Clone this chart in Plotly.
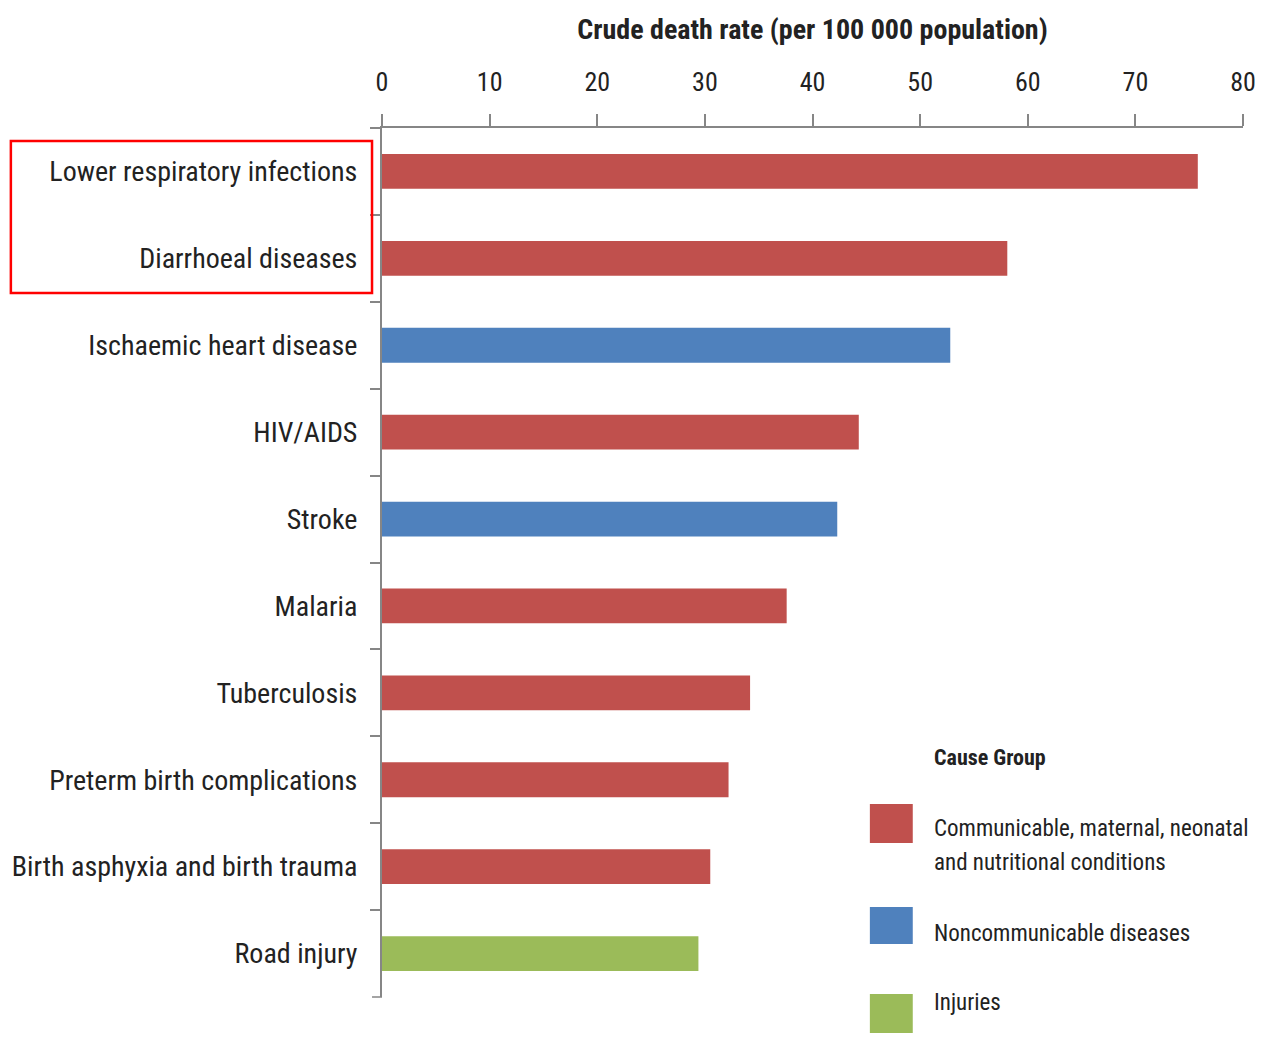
import plotly.graph_objects as go

causes = ["Lower respiratory infections", "Diarrhoeal diseases", "Ischaemic heart disease",
          "HIV/AIDS", "Stroke", "Malaria", "Tuberculosis", "Preterm birth complications",
          "Birth asphyxia and birth trauma", "Road injury"]
rates = [75.8, 58.1, 52.8, 44.3, 42.3, 37.6, 34.2, 32.2, 30.5, 29.4]
groups = ["Communicable", "Communicable", "Noncommunicable", "Communicable", "Noncommunicable",
          "Communicable", "Communicable", "Communicable", "Communicable", "Injuries"]
group_colors = {"Communicable": "#C0504D", "Noncommunicable": "#4F81BD", "Injuries": "#9BBB59"}
legend_keys = ["Communicable", "Noncommunicable", "Injuries"]
legend_lines = [["Communicable, maternal, neonatal", "and nutritional conditions"],
                ["Noncommunicable diseases"], ["Injuries"]]
x_ticks = [0, 10, 20, 30, 40, 50, 60, 70, 80]

FONT = "Liberation Sans Narrow, Arial Narrow, Roboto Condensed, Liberation Sans, Arial, sans-serif"
W, H = 1268, 1038
L, R, T, B = 380, 1243, 128, 997


def px(x):
    return (x - L) / (R - L)


def py(y):
    return (B - y) / (B - T)


fig = go.Figure()
fig.add_trace(go.Bar(
    x=rates, y=causes, orientation="h",
    marker=dict(color=[group_colors[g] for g in groups], line=dict(width=0)),
    width=0.4, showlegend=False, hoverinfo="x+y"))

fig.update_layout(
    width=W, height=H,
    margin=dict(l=L, r=W - R, t=T, b=H - B),
    paper_bgcolor="white", plot_bgcolor="white",
    font=dict(family=FONT, color="#222222", size=26),
    xaxis=dict(side="top", range=[0, 80], tickvals=x_ticks, showgrid=False, zeroline=False,
               showline=True, linecolor="#868686", linewidth=2, ticks="outside", ticklen=12,
               tickcolor="#868686", tickwidth=1.5, tickfont=dict(size=26, color="#222222"),
               ticklabelstandoff=13,
               title=dict(text="<b>Crude death rate (per 100 000 population)</b>",
                          font=dict(size=28, color="#222222"), standoff=19)),
    yaxis=dict(categoryorder="array", categoryarray=causes, autorange="reversed",
               showgrid=False, zeroline=False, showline=True, linecolor="#868686", linewidth=2,
               ticks="outside", ticklen=10, tickcolor="#868686", tickwidth=1.5,
               tickson="boundaries", tickfont=dict(size=28, color="#222222"),
               ticklabelstandoff=17),
)

shapes = [dict(type="rect", xref="paper", yref="paper", x0=px(8), x1=px(370), y0=py(293), y1=py(141),
               line=dict(color="#FF0000", width=2.5), fillcolor="rgba(0,0,0,0)", layer="above"),
          dict(type="line", xref="paper", yref="paper", x0=px(370), x1=px(380), y0=0, y1=0,
               line=dict(color="#868686", width=1.5))]
annotations = [dict(text="<b>Cause Group</b>", xref="paper", yref="paper", x=px(931), y=py(757),
                    xanchor="left", yanchor="middle", showarrow=False, font=dict(size=22, color="#222222"))]
sw = [(804, 843, [828, 862]), (907, 944, [933]), (994, 1033, [1003])]
for (y0, y1, tys), k, lines in zip(sw, legend_keys, legend_lines):
    shapes.append(dict(type="rect", xref="paper", yref="paper", x0=px(869), x1=px(912),
                       y0=py(y1), y1=py(y0), line=dict(width=0), fillcolor=group_colors[k]))
    for ty, lab in zip(tys, lines):
        annotations.append(dict(text=lab, xref="paper", yref="paper", x=px(931), y=py(ty),
                                xanchor="left", yanchor="middle", align="left", showarrow=False,
                                font=dict(size=23, color="#222222")))
fig.update_layout(shapes=shapes, annotations=annotations)

fig.write_html("out.html")
